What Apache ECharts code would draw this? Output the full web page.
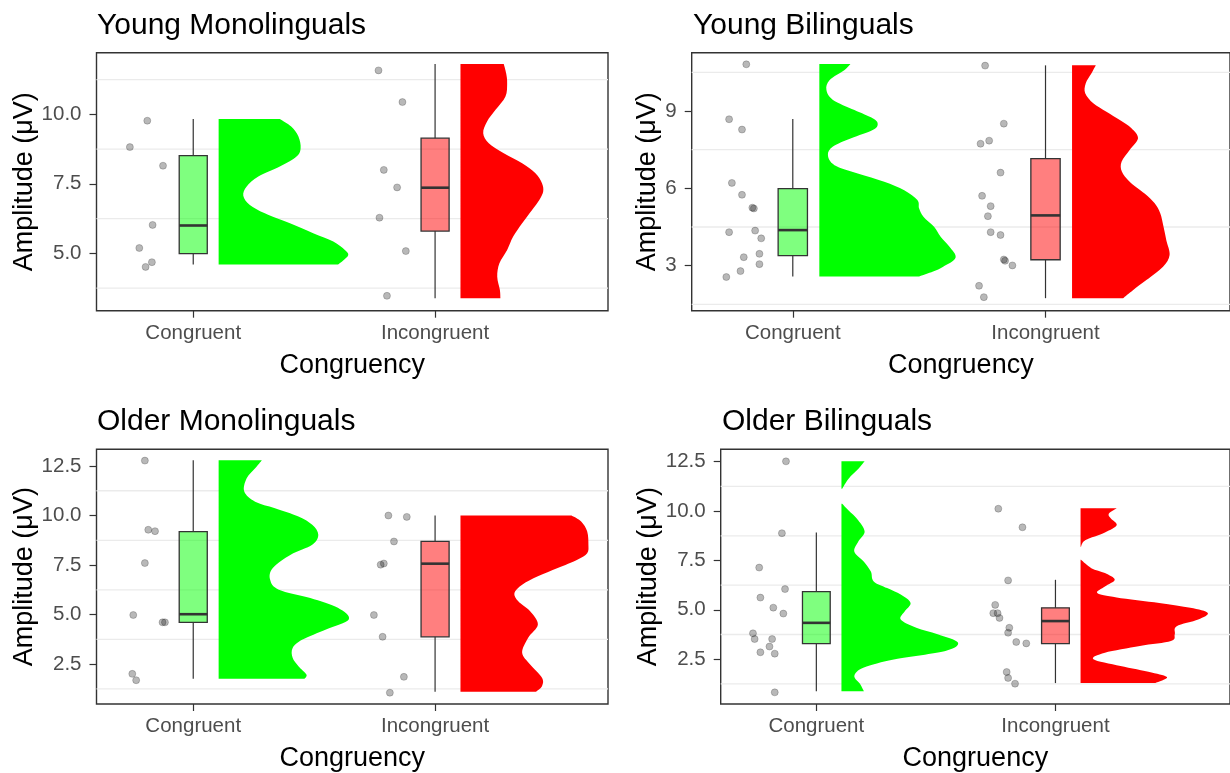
<!DOCTYPE html>
<html>
<head>
<meta charset="utf-8">
<script src="https://cdn.jsdelivr.net/npm/echarts@6/dist/echarts.min.js"></script>
<style>html,body{margin:0;padding:0;background:#fff}#chart{width:1230px;height:773px}</style>
</head>
<body>
<div id="chart"></div>
<script>
// ---------------- DATA ----------------
const categories = ['Congruent', 'Incongruent'];
const panelTitles = ['Young Monolinguals', 'Young Bilinguals', 'Older Monolinguals', 'Older Bilinguals'];
const xTicks = [1, 2];

// y tick values per panel
const ymTicks = [5, 7.5, 10];
const ybTicks = [3, 6, 9];
const omTicks = [2.5, 5, 7.5, 10, 12.5];
const obTicks = [2.5, 5, 7.5, 10, 12.5];

// light grid line values per panel
const ymGrid = [3.75, 6.25, 8.75, 11.25];
const ybGrid = [1.5, 4.5, 7.5, 10.5];
const omGrid = [1.25, 3.75, 6.25, 8.75, 11.25];
const obGrid = [1.25, 3.75, 6.25, 8.75, 11.25];

// jittered raw points [x, amplitude]
const ymCongPts = [[0.81,9.77],[0.738,8.82],[0.875,8.15],[0.832,6.02],[0.777,5.19],[0.829,4.68],[0.803,4.51]];
const ymIncPts  = [[1.766,11.58],[1.865,10.44],[1.788,8.0],[1.843,7.37],[1.770,6.28],[1.879,5.08],[1.801,3.47]];
const ybCongPts = [[0.816,10.81],[0.748,8.68],[0.799,8.28],[0.759,6.21],[0.799,5.75],[0.840,5.25],[0.846,5.22],[0.748,4.30],[0.851,4.36],[0.875,4.06],[0.806,3.33],[0.868,3.46],[0.868,3.06],[0.793,2.79],[0.737,2.56]];
const ybIncPts  = [[1.761,10.76],[1.835,8.51],[1.777,7.85],[1.743,7.73],[1.822,6.61],[1.749,5.71],[1.783,5.31],[1.772,4.92],[1.783,4.30],[1.822,4.19],[1.835,3.24],[1.840,3.19],[1.869,3.01],[1.737,2.22],[1.756,1.78]];
const omCongPts = [[0.80,12.77],[0.814,9.28],[0.842,9.21],[0.80,7.60],[0.752,4.98],[0.873,4.61],[0.883,4.61],[0.748,2.01],[0.764,1.69]];
const omIncPts  = [[1.807,10.0],[1.883,9.93],[1.830,8.69],[1.775,7.52],[1.788,7.58],[1.747,4.98],[1.783,3.88],[1.871,1.86],[1.813,1.06]];
const obCongPts = [[0.873,12.52],[0.856,8.88],[0.761,7.14],[0.869,6.05],[0.766,5.62],[0.82,5.11],[0.862,4.81],[0.735,3.81],[0.742,3.52],[0.815,3.52],[0.804,3.14],[0.766,2.85],[0.826,2.78],[0.826,0.82]];
const obIncPts  = [[1.761,10.12],[1.862,9.18],[1.802,6.49],[1.748,5.25],[1.74,4.83],[1.758,4.83],[1.766,4.59],[1.807,4.09],[1.802,3.84],[1.836,3.37],[1.878,3.30],[1.796,1.85],[1.802,1.55],[1.831,1.26]];

// boxplots [category position, lower whisker, Q1, median, Q3, upper whisker]
const ymBoxes = [[1,4.60,4.99,6.00,8.51,9.83],[2,3.38,5.80,7.36,9.14,11.81]];
const ybBoxes = [[1,2.58,3.39,4.38,5.99,8.69],[2,1.74,3.23,4.95,7.15,10.77]];
const omBoxes = [[1,1.76,4.61,5.02,9.19,12.79],[2,1.11,3.88,7.57,8.69,10.0]];
const obBoxes = [[1,0.87,3.29,4.34,5.92,8.92],[2,1.29,3.29,4.43,5.10,6.52]];

// half-violin outlines [amplitude, half width]; null separates pieces
const ymCongViolin = [[9.83,0.253],[9.56,0.30],[9.2,0.33],[8.78,0.339],[8.48,0.322],[8.12,0.253],[7.76,0.164],[7.4,0.116],[7.07,0.102],[6.74,0.129],[6.44,0.191],[6.08,0.295],[5.72,0.391],[5.42,0.474],[5.12,0.522],[4.94,0.536],[4.74,0.515],[4.60,0.494]];
const ymIncViolin  = [[11.81,0.179],[11.47,0.189],[11.12,0.193],[10.64,0.186],[10.16,0.145],[9.74,0.110],[9.32,0.094],[8.96,0.117],[8.6,0.179],[8.24,0.255],[7.88,0.31],[7.52,0.337],[7.22,0.342],[6.92,0.326],[6.56,0.296],[6.08,0.255],[5.6,0.218],[5.12,0.193],[4.64,0.161],[4.16,0.152],[3.68,0.163],[3.38,0.165]];
const ybCongViolin = [[10.82,0.123],[10.59,0.1],[10.2,0.041],[9.82,0.028],[9.43,0.054],[9.04,0.139],[8.72,0.211],[8.5,0.231],[8.26,0.211],[7.94,0.126],[7.62,0.054],[7.29,0.034],[6.9,0.06],[6.58,0.152],[6.26,0.257],[5.93,0.336],[5.55,0.388],[5.22,0.395],[4.9,0.412],[4.51,0.454],[4.12,0.48],[3.73,0.515],[3.31,0.539],[2.96,0.49],[2.77,0.45],[2.58,0.395]];
const ybIncViolin  = [[10.77,0.094],[10.46,0.077],[10.07,0.054],[9.69,0.052],[9.3,0.084],[8.97,0.136],[8.65,0.189],[8.33,0.235],[7.94,0.261],[7.49,0.228],[7.03,0.196],[6.65,0.197],[6.26,0.228],[5.80,0.287],[5.42,0.327],[5.03,0.349],[4.51,0.362],[3.99,0.373],[3.41,0.386],[2.96,0.36],[2.44,0.294],[2.05,0.241],[1.74,0.202]];
const omCongViolin = [[12.79,0.179],[12.38,0.151],[11.88,0.116],[11.21,0.106],[10.7,0.151],[10.37,0.233],[9.95,0.33],[9.53,0.387],[9.03,0.412],[8.52,0.387],[8.02,0.298],[7.35,0.224],[6.76,0.213],[6.26,0.249],[5.84,0.379],[5.34,0.493],[4.75,0.538],[4.25,0.444],[3.74,0.347],[3.32,0.306],[2.82,0.306],[2.40,0.33],[1.98,0.363],[1.76,0.355]];
const omIncViolin  = [[10.0,0.459],[9.70,0.499],[9.19,0.524],[8.52,0.529],[8.10,0.524],[7.77,0.483],[7.35,0.402],[6.93,0.32],[6.51,0.255],[6.09,0.223],[5.67,0.239],[5.17,0.288],[4.50,0.32],[3.83,0.28],[3.07,0.255],[2.48,0.288],[1.81,0.337],[1.39,0.337],[1.11,0.312]];
const obCongViolin = [[12.53,0.097],[12.13,0.07],[11.63,0.029],[11.13,0.003],null,[10.37,0.003],[10.04,0.029],[9.54,0.07],[8.95,0.097],[8.45,0.07],[7.94,0.054],[7.44,0.094],[6.94,0.123],[6.44,0.135],[6.10,0.191],[5.77,0.248],[5.35,0.289],[4.93,0.265],[4.51,0.248],[4.09,0.313],[3.76,0.402],[3.34,0.487],[2.92,0.435],[2.50,0.224],[2.08,0.094],[1.66,0.054],[1.24,0.078],[0.87,0.094]];
const obIncViolin  = [[10.15,0.151],[9.87,0.118],[9.62,0.127],[9.28,0.151],[8.92,0.102],[8.53,0.021],[8.2,0.002],null,[7.53,0.002],[7.11,0.045],[6.86,0.102],[6.52,0.143],[6.18,0.102],[5.85,0.07],[5.63,0.151],[5.35,0.329],[5.10,0.459],[4.84,0.532],[4.51,0.492],[4.17,0.402],[3.76,0.394],[3.42,0.378],[3.17,0.248],[2.83,0.102],[2.50,0.054],[2.16,0.167],[1.83,0.297],[1.58,0.362],[1.29,0.313]];

// ---------------- LAYOUT / STYLE ----------------
const FONT = 'Liberation Sans, Arial, sans-serif';
const violinColors = ['#00FF00', '#FF0000'];
const boxFills = ['rgba(0,255,0,0.5)', 'rgba(255,0,0,0.5)'];
const VIOLIN_OFFSET = 0.105;
const BOX_W = 0.116;

const panels = [
  { title: panelTitles[0], titleLeft: 97, titleTop: 11, grid: {left: 96.5, top: 52.7, width: 511.5, height: 258}, xMax: 2.715, yMin: 2.935, yMax: 12.216, ticks: ymTicks, digits: 1, gridVals: ymGrid, pts: [ymCongPts, ymIncPts], boxes: ymBoxes, violins: [ymCongViolin, ymIncViolin], nameGap: 58 },
  { title: panelTitles[1], titleLeft: 693, titleTop: 11, grid: {left: 691.7, top: 52.7, width: 541, height: 258}, xMax: 2.73, yMin: 1.254, yMax: 11.261, ticks: ybTicks, digits: 0, gridVals: ybGrid, pts: [ybCongPts, ybIncPts], boxes: ybBoxes, violins: [ybCongViolin, ybIncViolin], nameGap: 29 },
  { title: panelTitles[2], titleLeft: 97, titleTop: 406.5, grid: {left: 96.5, top: 449.3, width: 511.5, height: 255.7}, xMax: 2.715, yMin: 0.49, yMax: 13.34, ticks: omTicks, digits: 1, gridVals: omGrid, pts: [omCongPts, omIncPts], boxes: omBoxes, violins: [omCongViolin, omIncViolin], nameGap: 58 },
  { title: panelTitles[3], titleLeft: 722, titleTop: 406.5, grid: {left: 720.7, top: 449.3, width: 516.7, height: 255.7}, xMax: 2.73, yMin: 0.23, yMax: 13.13, ticks: obTicks, digits: 1, gridVals: obGrid, pts: [obCongPts, obIncPts], boxes: obBoxes, violins: [obCongViolin, obIncViolin], nameGap: 59 }
];

function gridLineRender(params, api) {
  const cs = params.coordSys;
  const y = api.coord([1, api.value(0)])[1];
  return { type: 'line', silent: true,
    shape: { x1: cs.x, y1: y, x2: cs.x + cs.width, y2: y },
    style: { stroke: '#EBEBEB', lineWidth: 1.3 } };
}

function piecePath(piece, base, api) {
  const pts = piece.map(function (d) { return api.coord([base + d[1], d[0]]); });
  const top = api.coord([base, piece[0][0]]);
  const bot = api.coord([base, piece[piece.length - 1][0]]);
  let d = 'M' + top[0] + ' ' + top[1] + ' L' + pts[0][0] + ' ' + pts[0][1];
  for (let i = 0; i < pts.length - 1; i++) {
    const p0 = pts[i - 1] || pts[i], p1 = pts[i], p2 = pts[i + 1], p3 = pts[i + 2] || pts[i + 1];
    const c1x = p1[0] + (p2[0] - p0[0]) / 6, c1y = p1[1] + (p2[1] - p0[1]) / 6;
    const c2x = p2[0] - (p3[0] - p1[0]) / 6, c2y = p2[1] - (p3[1] - p1[1]) / 6;
    d += ' C' + c1x + ' ' + c1y + ' ' + c2x + ' ' + c2y + ' ' + p2[0] + ' ' + p2[1];
  }
  d += ' L' + bot[0] + ' ' + bot[1] + ' Z';
  return d;
}

function makeViolinRender(violins) {
  return function (params, api) {
    const idx = api.value(0);
    const base = xTicks[idx] + VIOLIN_OFFSET;
    const prof = violins[idx];
    const children = [];
    let piece = [];
    const flush = function () {
      if (piece.length > 1) {
        children.push({ type: 'path', silent: true, shape: { pathData: piecePath(piece, base, api) }, style: { fill: violinColors[idx], stroke: null } });
      }
      piece = [];
    };
    prof.forEach(function (d) { if (d === null) flush(); else piece.push(d); });
    flush();
    return { type: 'group', children: children };
  };
}

function boxRender(params, api) {
  const pos = api.value(0), lo = api.value(1), q1 = api.value(2), med = api.value(3), q3 = api.value(4), hi = api.value(5);
  const hw = BOX_W / 2;
  const tl = api.coord([pos - hw, q3]);
  const br = api.coord([pos + hw, q1]);
  const m = api.coord([pos, med]);
  const cLo = api.coord([pos, lo]);
  const cHi = api.coord([pos, hi]);
  const stroke = '#333333';
  return { type: 'group', children: [
    { type: 'line', shape: { x1: cHi[0], y1: cHi[1], x2: cHi[0], y2: tl[1] }, style: { stroke: stroke, lineWidth: 1.2 } },
    { type: 'line', shape: { x1: cLo[0], y1: br[1], x2: cLo[0], y2: cLo[1] }, style: { stroke: stroke, lineWidth: 1.2 } },
    { type: 'rect', shape: { x: tl[0], y: tl[1], width: br[0] - tl[0], height: br[1] - tl[1] }, style: { fill: boxFills[params.dataIndex], stroke: stroke, lineWidth: 1.3 } },
    { type: 'line', shape: { x1: tl[0], y1: m[1], x2: br[0], y2: m[1] }, style: { stroke: stroke, lineWidth: 2.6 } }
  ] };
}

const option = {
  animation: false,
  backgroundColor: '#ffffff',
  textStyle: { fontFamily: FONT },
  title: panels.map(function (p) {
    return { text: p.title, left: p.titleLeft, top: p.titleTop, padding: 0,
      textStyle: { fontSize: 30, fontWeight: 'normal', color: '#000000', fontFamily: FONT } };
  }),
  grid: panels.map(function (p) {
    return Object.assign({ show: true, borderColor: '#333333', borderWidth: 1.4, backgroundColor: 'transparent', containLabel: false }, p.grid);
  }),
  xAxis: panels.map(function (p, i) {
    return { gridIndex: i, type: 'value', min: 0.6, max: p.xMax,
      axisLine: { show: false }, splitLine: { show: false },
      axisTick: { show: true, customValues: xTicks, length: 7, lineStyle: { color: '#333333', width: 1.2 } },
      axisLabel: { show: true, customValues: xTicks, margin: 12, fontSize: 20.5, color: '#4D4D4D', fontFamily: FONT,
        formatter: function (v) { return categories[Math.round(v) - 1]; } },
      name: 'Congruency', nameLocation: 'middle', nameGap: 41,
      nameTextStyle: { fontSize: 27, color: '#000000', fontFamily: FONT } };
  }),
  yAxis: panels.map(function (p, i) {
    return { gridIndex: i, type: 'value', min: p.yMin, max: p.yMax,
      axisLine: { show: false }, splitLine: { show: false },
      axisTick: { show: true, customValues: p.ticks, length: 7, lineStyle: { color: '#333333', width: 1.2 } },
      axisLabel: { show: true, customValues: p.ticks, margin: 15, fontSize: 20.5, color: '#4D4D4D', fontFamily: FONT,
        formatter: function (v) { return Number(v).toFixed(p.digits); } },
      name: 'Amplitude (μV)', nameLocation: 'middle', nameGap: p.nameGap,
      nameTextStyle: { fontSize: 27, color: '#000000', fontFamily: FONT } };
  }),
  series: []
};

panels.forEach(function (p, i) {
  option.series.push({ type: 'custom', xAxisIndex: i, yAxisIndex: i, z: 1, silent: true,
    renderItem: gridLineRender, data: p.gridVals.map(function (v) { return [v]; }) });
  option.series.push({ type: 'custom', xAxisIndex: i, yAxisIndex: i, z: 2, silent: true,
    renderItem: makeViolinRender(p.violins), data: [[0], [1]] });
  option.series.push({ type: 'scatter', xAxisIndex: i, yAxisIndex: i, z: 3, silent: true,
    symbol: 'circle', symbolSize: 7,
    itemStyle: { color: 'rgba(0,0,0,0.35)', borderColor: 'rgba(0,0,0,0.25)', borderWidth: 1 },
    data: p.pts[0].concat(p.pts[1]) });
  option.series.push({ type: 'custom', xAxisIndex: i, yAxisIndex: i, z: 4, silent: true,
    renderItem: boxRender, data: p.boxes });
});

const chart = echarts.init(document.getElementById('chart'), null, { renderer: 'canvas', width: 1230, height: 773 });
chart.setOption(option);
</script>
</body>
</html>
